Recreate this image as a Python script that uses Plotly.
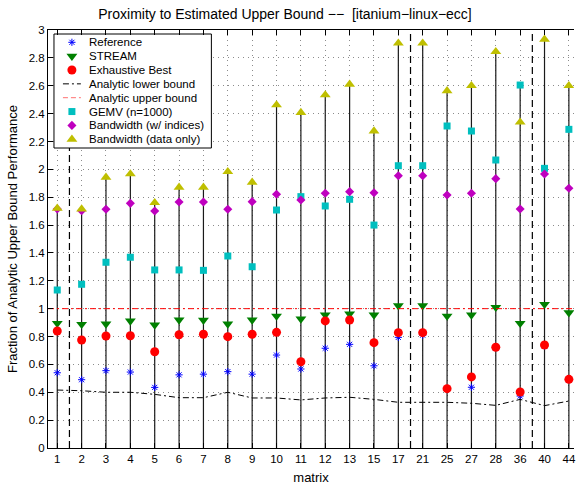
import plotly.graph_objects as go

# ---- data -------------------------------------------------------------
matrices = ["1", "2", "3", "4", "5", "6", "7", "8", "9", "10", "11",
            "12", "13", "15", "17", "21", "25", "27", "28", "36", "40", "44"]

reference = [0.54, 0.49, 0.555, 0.545, 0.435, 0.525, 0.53, 0.548, 0.53, 0.667, 0.567,
             0.716, 0.744, 0.59, 0.794, 0.81, 0.42, 0.436, 0.72, 0.373, 0.73, 0.49]
stream = [0.895, 0.888, 0.89, 0.912, 0.883, 0.919, 0.917, 0.89, 0.919, 0.947, 0.926,
          0.955, 0.962, 0.955, 1.021, 1.021, 0.947, 0.955, 1.01, 0.895, 1.031, 0.971]
exhaustive_best = [0.84, 0.775, 0.804, 0.806, 0.691, 0.813, 0.816, 0.799, 0.816, 0.83, 0.619,
                   0.912, 0.919, 0.756, 0.828, 0.828, 0.426, 0.51, 0.723, 0.402, 0.739, 0.493]
lower_bound = [0.416, 0.411, 0.4, 0.4, 0.385, 0.361, 0.361, 0.4, 0.359, 0.359, 0.345,
               0.359, 0.364, 0.349, 0.328, 0.328, 0.328, 0.321, 0.306, 0.349, 0.304, 0.337]
upper_bound = 1.0
gemv = [1.134, 1.175, 1.333, 1.369, 1.278, 1.278, 1.275, 1.378, 1.301, 1.708, 1.804,
        1.737, 1.785, 1.6, 2.026, 2.026, 2.311, 2.275, 2.067, 2.605, 2.007, 2.287]
bw_indices = [1.715, 1.703, 1.713, 1.756, 1.701, 1.766, 1.766, 1.713, 1.768, 1.821, 1.78,
              1.828, 1.84, 1.832, 1.954, 1.954, 1.816, 1.828, 1.933, 1.715, 1.967, 1.864]
bw_data = [1.72, 1.715, 1.943, 1.967, 1.761, 1.871, 1.871, 1.983, 1.907, 2.462, 2.407,
           2.534, 2.61, 2.275, 2.905, 2.905, 2.564, 2.6, 2.844, 2.338, 2.933, 2.6]

# matrices that open a new group (a dashed separator is drawn before them)
group_starts = ["2", "21", "40"]

y_ticks = [round(0.2 * k, 1) for k in range(16)]

# ---- styling ----------------------------------------------------------
FONT = "Liberation Sans, Arial, Helvetica, sans-serif"
W, H = 576, 485
L, R, T, B = 48, 0, 30, 37
X_RANGE = [-0.38, 21.21]

BLUE, GREEN, RED = "#0000ff", "#008000", "#ff0000"
CYAN, MAGENTA, OLIVE = "#00bfbf", "#bf00bf", "#bfbf00"
DASHDOT = "6px,3px,2px,3px"
GRID = dict(showgrid=True, gridcolor="#8c8c8c", griddash="1px,4px", gridwidth=1)

xs = list(range(len(matrices)))
fig = go.Figure()

# vertical stems from zero up to the highest value of each matrix
series_all = [reference, stream, exhaustive_best, lower_bound, gemv, bw_indices, bw_data]
stem_x, stem_y = [], []
for i in xs:
    top = max(s[i] for s in series_all)
    stem_x += [i, i, None]
    stem_y += [0, top, None]
fig.add_trace(go.Scatter(x=stem_x, y=stem_y, mode="lines",
                         line=dict(color="#1a1a1a", width=1.2),
                         hoverinfo="skip", showlegend=False))

# group separators
for name in group_starts:
    gx = matrices.index(name) - 0.5
    fig.add_trace(go.Scatter(x=[gx, gx], y=[0, 3], mode="lines",
                             line=dict(color="black", width=1.2, dash="7px,4px"),
                             hoverinfo="skip", showlegend=False))

marker_series = [
    ("Reference", reference, "asterisk-open", BLUE, 6),
    ("STREAM", stream, "triangle-down", GREEN, 9.5),
    ("Exhaustive Best", exhaustive_best, "circle", RED, 9),
]
for name, vals, sym, col, size in marker_series:
    fig.add_trace(go.Scatter(
        x=xs, y=vals, mode="markers", name=name,
        marker=dict(symbol=sym, color=col, size=size,
                    line=dict(color=col, width=1 if "open" in sym else 0)),
        showlegend=False))

fig.add_trace(go.Scatter(x=xs, y=lower_bound, mode="lines", name="Analytic lower bound",
                         line=dict(color="black", width=1, dash=DASHDOT), showlegend=False))
fig.add_trace(go.Scatter(x=X_RANGE, y=[upper_bound, upper_bound], mode="lines",
                         name="Analytic upper bound",
                         line=dict(color=RED, width=1, dash=DASHDOT), showlegend=False))

marker_series2 = [
    ("GEMV (n=1000)", gemv, "square", CYAN, 7),
    ("Bandwidth (w/ indices)", bw_indices, "diamond", MAGENTA, 7),
    ("Bandwidth (data only)", bw_data, "triangle-up", OLIVE, 9.5),
]
for name, vals, sym, col, size in marker_series2:
    fig.add_trace(go.Scatter(
        x=xs, y=vals, mode="markers", name=name,
        marker=dict(symbol=sym, color=col, size=size, line=dict(width=0)),
        showlegend=False))

# ---- legend box (drawn on a pixel-space overlay axis) -----------------
legend_entries = [
    ("Reference", "marker", "asterisk-open", BLUE, 6, None),
    ("STREAM", "marker", "triangle-down", GREEN, 9.5, None),
    ("Exhaustive Best", "marker", "circle", RED, 9, None),
    ("Analytic lower bound", "line", None, "black", None, DASHDOT),
    ("Analytic upper bound", "line", None, "#ff7070", None, "5px,3px"),
    ("GEMV (n=1000)", "marker", "square", CYAN, 7, None),
    ("Bandwidth (w/ indices)", "marker", "diamond", MAGENTA, 7, None),
    ("Bandwidth (data only)", "marker", "triangle-up", OLIVE, 9.5, None),
]
box_l, box_r, box_t, box_b = 54, 212, 34, 148
row0, row_h = 42.3, 13.85
key_x, text_x = 72, 87

fig.add_trace(go.Scatter(
    x=[box_l, box_r, box_r, box_l, box_l], y=[box_t, box_t, box_b, box_b, box_t],
    mode="lines", fill="toself", fillcolor="white",
    line=dict(color="black", width=1), xaxis="x2", yaxis="y2",
    hoverinfo="skip", showlegend=False))

annotations = []
for k, (label, kind, sym, col, size, dash) in enumerate(legend_entries):
    yy = row0 + k * row_h
    if kind == "marker":
        fig.add_trace(go.Scatter(
            x=[key_x], y=[yy], mode="markers", xaxis="x2", yaxis="y2",
            marker=dict(symbol=sym, color=col, size=size,
                        line=dict(color=col, width=1 if "open" in sym else 0)),
            hoverinfo="skip", showlegend=False))
    else:
        fig.add_trace(go.Scatter(
            x=[key_x - 9, key_x + 9], y=[yy, yy], mode="lines", xaxis="x2", yaxis="y2",
            line=dict(color=col, width=1, dash=dash),
            hoverinfo="skip", showlegend=False))
    annotations.append(dict(
        x=text_x, y=yy, xref="x2", yref="y2", text=label, showarrow=False,
        xanchor="left", yanchor="middle", font=dict(size=11.5, color="black", family=FONT)))

fig.update_layout(
    width=W, height=H,
    margin=dict(l=L, r=R, t=T, b=B),
    paper_bgcolor="white", plot_bgcolor="white",
    font=dict(family=FONT, size=11.5, color="black"),
    title=dict(text="Proximity to Estimated Upper Bound −−  [itanium−linux−ecc]",
               x=285 / W, xanchor="center", y=1 - 14 / H, yanchor="middle",
               font=dict(size=14, color="black", family=FONT)),
    annotations=annotations,
    xaxis=dict(range=X_RANGE, tickvals=xs, ticktext=matrices,
               showline=True, linecolor="black", linewidth=1, mirror="ticks",
               ticks="inside", ticklen=5, tickcolor="black",
               ticklabeloverflow="allow", zeroline=False,
               title=dict(text="matrix", font=dict(size=13, family=FONT), standoff=9),
               tickfont=dict(size=11.5, family=FONT), **GRID),
    yaxis=dict(range=[0, 3], tickvals=y_ticks, ticktext=[f"{v:g}" for v in y_ticks],
               showline=True, linecolor="black", linewidth=1, mirror=False,
               ticks="inside", ticklen=5, tickcolor="black", zeroline=False,
               title=dict(text="Fraction of Analytic Upper Bound Performance",
                          font=dict(size=13, family=FONT), standoff=8),
               tickfont=dict(size=11.5, family=FONT), **GRID),
    xaxis2=dict(overlaying="x", range=[L, W], visible=False, fixedrange=True),
    yaxis2=dict(overlaying="y", range=[H - B, T], visible=False, fixedrange=True),
)

fig.write_html("out.html")
